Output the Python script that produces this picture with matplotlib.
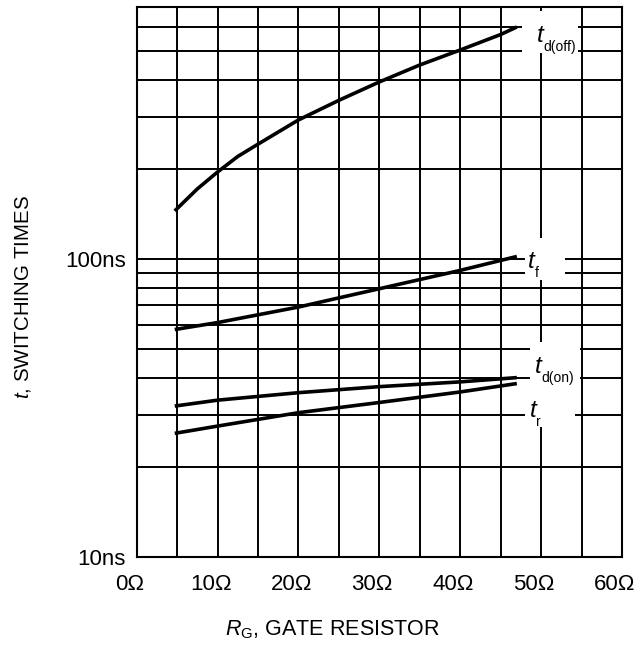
import numpy as np
import matplotlib
import matplotlib.pyplot as plt
from matplotlib.patches import Rectangle
from matplotlib.transforms import ScaledTranslation

plt.rcParams["font.family"] = ["Liberation Sans", "DejaVu Sans"]
plt.rcParams["mathtext.fontset"] = "custom"
plt.rcParams["mathtext.rm"] = "Liberation Sans"
plt.rcParams["mathtext.it"] = "Liberation Sans:italic"

# gate resistance (ohm) and switching times (ns)
rg_off = [4.7, 6, 7.5, 10, 12.5, 15, 20, 25, 30, 35, 40, 45, 47]
td_off = [145, 157, 172, 196, 221, 243, 293, 341, 393, 448, 503, 567, 601]
rg = [4.7, 10, 20, 30, 40, 47]
t_f = [58, 61.2, 69, 79.5, 91.6, 102]
td_on = [32.1, 33.6, 35.6, 37.3, 38.7, 40]
t_r = [26, 27.5, 30.5, 33, 35.8, 38.2]

x_ticks = [0, 10, 20, 30, 40, 50, 60]
x_labels = ["0\u03a9", "10\u03a9", "20\u03a9", "30\u03a9", "40\u03a9", "50\u03a9", "60\u03a9"]
y_ticks = [10, 100]
y_labels = ["10ns", "100ns"]

# curve labels: subscript, position
curve_labels = [("d(off)", 49.45, 536), ("f", 48.4, 93.4), ("d(on)", 49.25, 41.5), ("r", 48.6, 29.5)]

fig = plt.figure(figsize=(6.44, 6.46), dpi=100)
ax = fig.add_axes([0.2123, 0.1378, 0.7535, 0.851])

ax.set_yscale("log")
ax.set_xlim(0, 60)
ax.set_ylim(10, 700)
ax.set_xticks(x_ticks)
ax.set_xticklabels(x_labels, fontsize=16)
ax.set_xticks(np.arange(0, 61, 5), minor=True)
ax.set_yticks(y_ticks)
ax.set_yticklabels(y_labels, fontsize=16)
ax.set_yticks([20, 30, 40, 50, 60, 70, 80, 90, 200, 300, 400, 500, 600], minor=True)
ax.yaxis.set_minor_formatter(matplotlib.ticker.NullFormatter())
ax.tick_params(which="both", length=0)
ax.tick_params(axis="x", pad=12)
ax.tick_params(axis="y", pad=8)
ax.grid(True, which="both", color="black", linewidth=1.4)
ax.set_axisbelow(True)
for s in ax.spines.values():
    s.set_linewidth(1.5)

shift = ScaledTranslation(-7 / 100, 0, fig.dpi_scale_trans)
for lab in ax.get_xticklabels():
    lab.set_transform(lab.get_transform() + shift)

# white boxes behind curve labels
boxes = [(47.6, 492, 54.6, 680), (48.0, 85, 53.0, 118), (48.6, 35.0, 54.8, 52.7), (48.0, 27.3, 54.2, 35.0)]
for x0, y0, x1, y1 in boxes:
    ax.add_patch(Rectangle((x0, y0), x1 - x0, y1 - y0, facecolor="white", edgecolor="none", zorder=2))

for xs, ys in [(rg_off, td_off), (rg, t_f), (rg, td_on), (rg, t_r)]:
    ax.plot(xs, ys, color="black", linewidth=2.6, zorder=3, solid_capstyle="butt")

for sub, x, y in curve_labels:
    ax.annotate("t", (x, y), fontsize=17.5, style="italic", ha="left", va="baseline", zorder=4)
    ax.annotate(sub, (x, y), xytext=(4.5, -6.5), textcoords="offset points",
                fontsize=10, ha="left", va="baseline", zorder=4)

fig.text(0.517, 0.025, r"$R_{\mathrm{G}}$, GATE RESISTOR", fontsize=15.5, ha="center", va="center")
fig.text(0.036, 0.54, r"$t$, SWITCHING TIMES", fontsize=14.8, ha="center", va="center", rotation=90)

fig.savefig("out.png", dpi=100)
